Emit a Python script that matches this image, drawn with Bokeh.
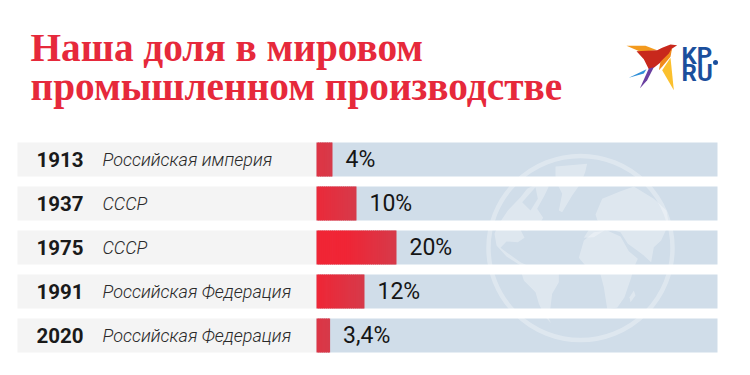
from bokeh.plotting import figure
from bokeh.models import Range1d
from bokeh.core.properties import value
from bokeh.embed import file_html
from bokeh.resources import INLINE

years = ["1913", "1937", "1975", "1991", "2020"]
states = ["Российская империя", "СССР", "СССР", "Российская Федерация", "Российская Федерация"]
shares = [4, 10, 20, 12, 3.4]
share_labels = ["4%", "10%", "20%", "12%", "3,4%"]
title_lines = ["Наша доля в мировом", "промышленном производстве"]

W, H = 734, 359
PX = 4.0      # px per percent
ROW = 44.0    # px per row
X0, Y0 = 316.0, 159.0  # reference pixel of 0 % / first row


def fx(px):
    return (px - X0) / PX


def fy(py):
    return (py - Y0) / ROW


p = figure(width=W, height=H, output_backend="svg", toolbar_location=None,
           x_range=Range1d(fx(0), fx(W)), y_range=Range1d(fy(H), fy(0)),
           min_border=0, outline_line_color=None, background_fill_color="white")
p.axis.visible = False
p.grid.visible = False

rows = list(range(len(years)))
BAR_H = 34 / ROW

# row backgrounds
p.hbar(y=rows, left=fx(17), right=0, height=BAR_H, fill_color="#f4f4f4", line_color=None)
p.hbar(y=rows, left=0, right=100.25, height=BAR_H, fill_color="#d0dde9", line_color=None)

# globe watermark (decoration, in reference pixels)
GLOBE = "#ffffff"
GA = 0.30
p.scatter([fx(580)], [fy(247.5)], size=184, marker="circle", fill_color=None,
          line_color=GLOBE, line_alpha=GA, line_width=4.5)


def z3(pts):
    return [fx(420 + a / 3) for a, b in pts], [fy(130 + b / 3) for a, b in pts]


land = [
    # North America
    [(232, 285), (262, 240), (300, 200), (320, 175), (350, 160), (385, 168), (372, 195), (350, 235),
     (368, 262), (355, 285), (320, 300), (300, 298), (312, 322), (292, 335), (258, 333), (240, 352),
     (262, 368), (300, 395), (335, 412), (345, 425), (300, 405), (258, 378), (228, 345), (222, 310)],
    # Greenland
    [(405, 108), (500, 100), (494, 125), (480, 160), (455, 195), (425, 245), (415, 240), (425, 190), (405, 150)],
    # South America
    [(300, 418), (345, 410), (415, 430), (415, 455), (395, 490), (390, 530), (385, 565), (392, 578),
     (375, 560), (355, 520), (345, 485), (310, 450)],
    # Africa
    [(490, 330), (520, 305), (560, 300), (600, 318), (625, 362), (652, 385), (640, 412), (632, 442),
     (612, 500), (590, 532), (560, 535), (550, 470), (540, 432), (500, 412), (475, 382)],
    # Madagascar
    [(640, 480), (645, 495), (630, 515), (627, 500)],
    # Eurasia
    [(525, 252), (545, 205), (600, 182), (640, 168), (700, 205), (738, 240), (745, 280), (722, 330),
     (700, 350), (692, 395), (670, 375), (650, 360), (622, 340), (600, 305), (560, 295), (520, 320),
     (490, 322), (505, 298), (540, 290), (530, 268)],
]
xs, ys = zip(*[z3(s) for s in land])
p.patches(list(xs), list(ys), fill_color=GLOBE, fill_alpha=GA, line_color=None)
hudson = z3([(305, 215), (345, 170), (352, 205), (330, 240)])
p.patch(hudson[0], hudson[1], fill_color="#d0dde9", line_color=None)

# red bars with a horizontal shading towards their right end
BRIGHT = (240, 37, 53)
DULL = (214, 58, 74)
FADE = 50.0  # px
for r, v in zip(rows, shares):
    w = v * PX
    n = int(w // 2) + 1
    for i in range(n - 1, -1, -1):
        left = v * i / n
        right = v * (i + 1) / n
        d = w - right * PX
        t = min(d / FADE, 1.0)
        c = tuple(round(DULL[k] + (BRIGHT[k] - DULL[k]) * t) for k in range(3))
        p.hbar(y=[r], left=left, right=min(right + 0.2, v), height=BAR_H,
               fill_color="#%02x%02x%02x" % c, line_color=None)

# texts
p.text(x=[fx(36)] * 5, y=rows, text=years, text_font=value("Roboto"), text_font_style="bold",
       text_font_size="20.5px", text_color="#1a1a1a", text_baseline="middle", text_align="left")
p.text(x=[fx(102)] * 5, y=rows, text=states, text_font=value("Roboto Light"), text_font_style="italic",
       text_font_size="18px", text_color="#2a2a2a", text_baseline="middle", text_align="left")
p.text(x=shares, y=rows, text=share_labels, x_offset=13, text_font=value("Roboto"),
       text_font_size="23px", text_color="#151515", text_baseline="middle", text_align="left")

p.text(x=[fx(30)] * 2, y=[fy(47), fy(86)], text=title_lines, text_font=value("Liberation Serif"),
       text_font_style="bold", text_font_size="39.3px", text_color="#e6293b",
       text_baseline="alphabetic", text_align="left")

# logo
logo = [
    ("#f39a1e", [(18, 22), (75, 22), (110, 35), (60, 40)]),
    ("#c8281c", [(48, 38), (110, 35), (125, 28), (150, 18), (170, 20), (155, 30), (145, 50), (120, 72), (100, 88), (85, 92), (70, 62)]),
    ("#f08a1c", [(155, 28), (150, 55), (125, 85), (115, 95), (120, 70), (145, 45)]),
    ("#fbc02d", [(150, 58), (160, 155), (125, 95)]),
    ("#6a3fa0", [(100, 86), (85, 90), (58, 150), (80, 125)]),
    ("#2f8fd8", [(78, 92), (25, 118), (70, 105)]),
]
for col, pts in logo:
    p.patch([fx(620 + a / 3) for a, b in pts], [fy(38 + b / 3) for a, b in pts],
            fill_color=col, line_color=None)
p.text(x=[fx(681), fx(681)], y=[fy(55), fy(72)], text=["KP", "RU"], text_font=value("Roboto"),
       text_font_style="bold", text_font_size="24px", text_color="#1b4f9c",
       text_baseline="alphabetic", text_align="left")
p.scatter([fx(715)], [fy(62)], size=5, marker="circle", fill_color="#1b4f9c", line_color=None)

open("out.html", "w").write(file_html(p, INLINE))
